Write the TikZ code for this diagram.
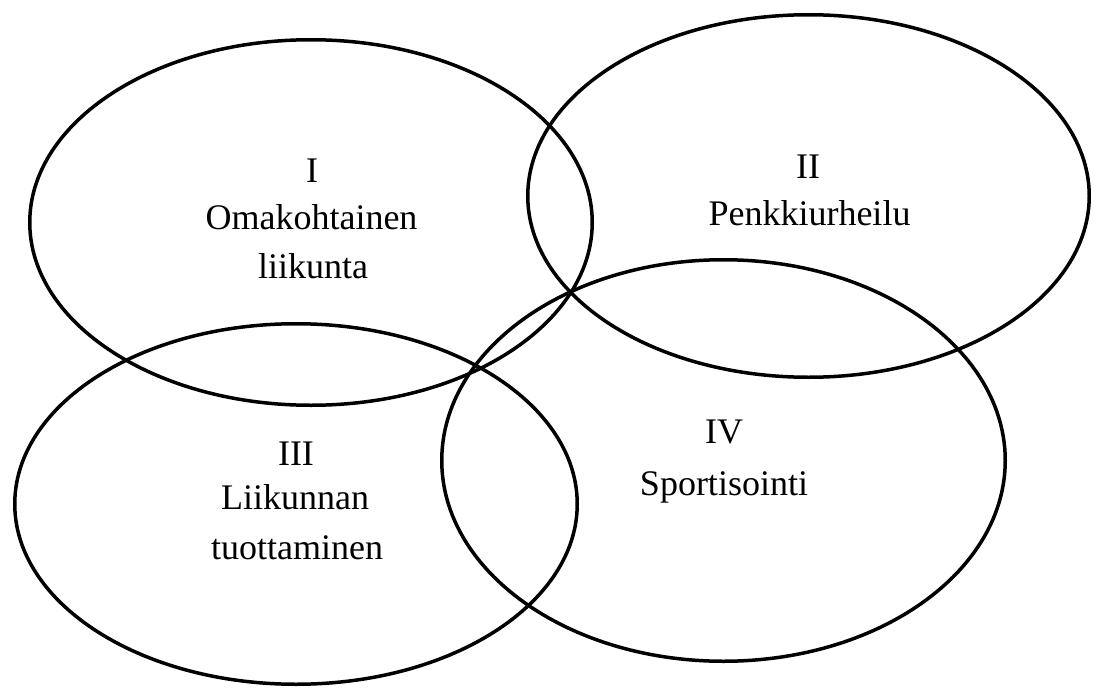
\documentclass[tikz,border=0pt]{standalone}
\usepackage{fontspec}
\setmainfont{Liberation Serif}
\usetikzlibrary{shapes.geometric}
\begin{document}
\begin{tikzpicture}[x=1pt,y=-1pt,
  area/.style={draw=black,line width=3.5pt,ellipse,inner sep=0pt},
  lbl/.style={anchor=base,inner sep=0pt,font=\fontsize{36}{36}\selectfont}]
\useasboundingbox (0,0) rectangle (1096,688);
% the four overlapping areas
\node[area,minimum width=562.5pt,minimum height=365.5pt] (e1) at (311,222.5) {};
\node[area,minimum width=561.5pt,minimum height=362.5pt] (e2) at (808.5,196) {};
\node[area,minimum width=562.5pt,minimum height=360.5pt] (e3) at (296,504) {};
\node[area,minimum width=563.5pt,minimum height=401.5pt] (e4) at (723.5,460.5) {};
% labels
\node[lbl] (n1) at (312,182) {I};
\node[lbl] (t1a) at (311.5,229) {Omakohtainen};
\node[lbl] (t1b) at (313,278) {liikunta};
\node[lbl] (n2) at (808,178) {II};
\node[lbl] (t2) at (809.5,225) {Penkkiurheilu};
\node[lbl] (n3) at (296,465) {III};
\node[lbl] (t3a) at (295,509) {Liikunnan};
\node[lbl] (t3b) at (297,559) {tuottaminen};
\node[lbl] (n4) at (724,443) {IV};
\node[lbl] (t4) at (724,495) {Sportisointi};
\end{tikzpicture}
\end{document}
